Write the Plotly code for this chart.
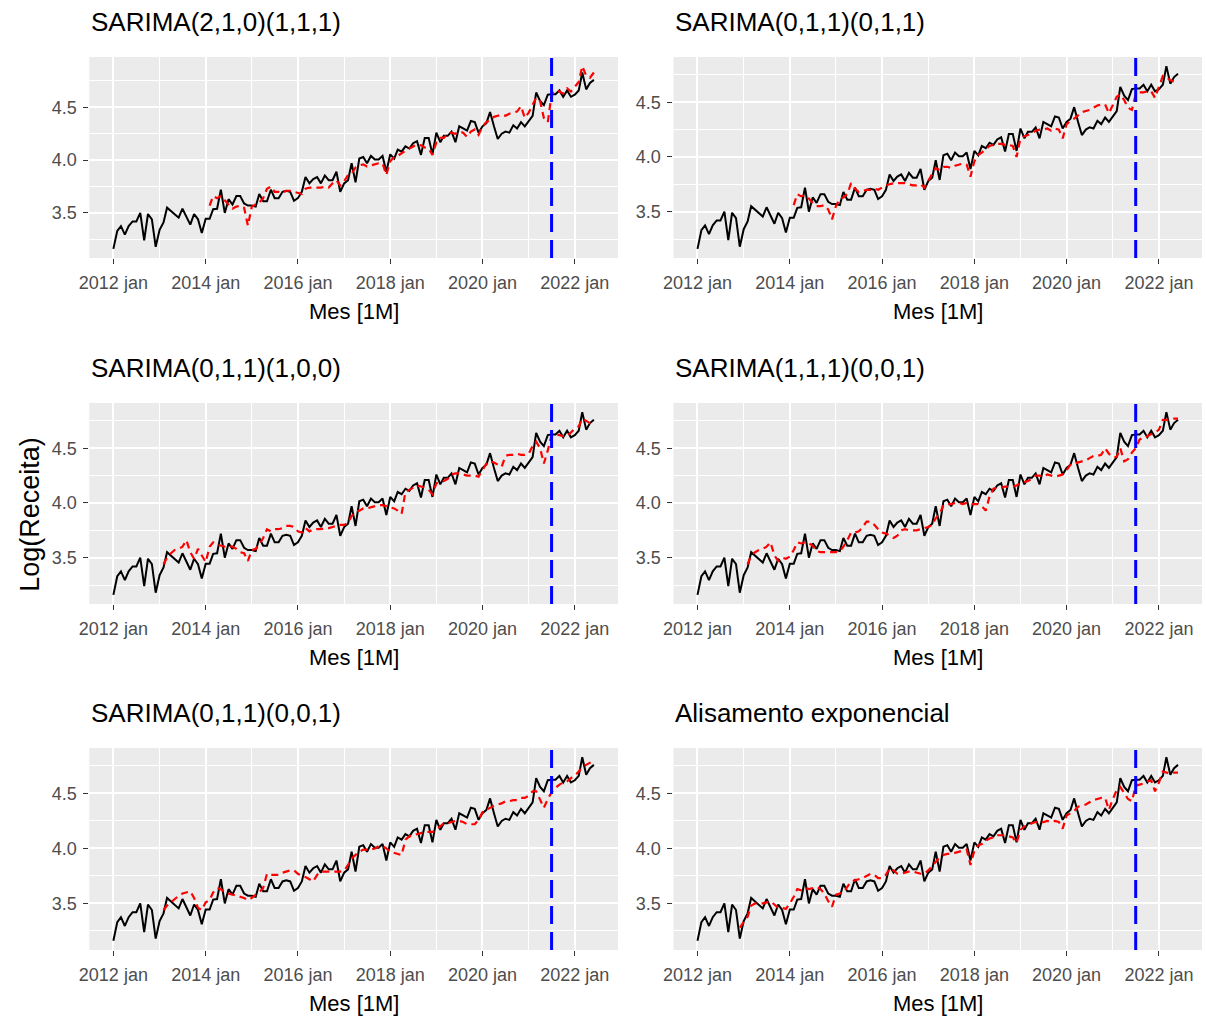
import pandas as pd
import plotly.graph_objects as go

# ---------------- data ----------------
first_month = "2012-01-01"
split_month = "2021-07-01"

log_receita = [
    3.16, 3.33, 3.375, 3.295, 3.375, 3.42, 3.42, 3.50, 3.24, 3.49, 3.44, 3.18,
    3.34, 3.41, 3.55, 3.52, 3.49, 3.455, 3.54, 3.47, 3.39, 3.49, 3.44, 3.31,
    3.445, 3.445, 3.535, 3.54, 3.72, 3.50, 3.63, 3.58, 3.66, 3.66, 3.59, 3.57,
    3.57, 3.56, 3.68, 3.61, 3.61, 3.72, 3.64, 3.64, 3.70, 3.71, 3.70, 3.615,
    3.64, 3.70, 3.84, 3.78, 3.82, 3.84, 3.78, 3.855, 3.81, 3.81, 3.89, 3.70,
    3.78, 3.81, 3.97, 3.79, 4.015, 4.03, 3.97, 4.04, 4.006, 4.006, 4.04, 3.89,
    4.055, 4.015, 4.10, 4.08, 4.13, 4.11, 4.16, 4.18, 4.05, 4.21, 4.21, 4.055,
    4.26, 4.17, 4.23, 4.23, 4.27, 4.17, 4.32, 4.30, 4.28, 4.37, 4.36, 4.26,
    4.32, 4.35, 4.455, 4.32, 4.20, 4.25, 4.27, 4.26, 4.33, 4.30, 4.36, 4.32,
    4.37, 4.42, 4.64, 4.56, 4.52, 4.62, 4.625, 4.625, 4.66, 4.60, 4.66, 4.60,
    4.62, 4.66, 4.83, 4.67, 4.73, 4.76,
]

model_titles = [
    "SARIMA(2,1,0)(1,1,1)", "SARIMA(0,1,1)(0,1,1)",
    "SARIMA(0,1,1)(1,0,0)", "SARIMA(1,1,1)(0,0,1)",
    "SARIMA(0,1,1)(0,0,1)", "Alisamento exponencial",
]
model_starts = ["2014-02-01", "2014-02-01", "2013-02-01",
                "2013-02-01", "2013-02-01", "2012-12-01"]

ajuste_1 = [
    3.57, 3.66, 3.64, 3.66, 3.62, 3.58, 3.54, 3.56, 3.57, 3.55, 3.38,
    3.56, 3.58, 3.60, 3.64, 3.73, 3.75, 3.70, 3.70, 3.69, 3.71, 3.71, 3.70,
    3.69, 3.68, 3.73, 3.74, 3.74, 3.74, 3.74, 3.75, 3.74, 3.78, 3.81, 3.76,
    3.80, 3.86, 3.87, 3.93, 3.95, 3.96, 3.94, 3.95, 3.96, 3.97, 3.97, 3.86,
    3.99, 4.03, 4.04, 4.07, 4.09, 4.11, 4.13, 4.15, 4.14, 4.12, 4.11, 4.05,
    4.17, 4.21, 4.21, 4.25, 4.26, 4.25, 4.27, 4.26, 4.22, 4.27, 4.29, 4.24,
    4.32, 4.36, 4.38, 4.41, 4.42, 4.43, 4.42, 4.44, 4.45, 4.46, 4.51, 4.40,
    4.45, 4.52, 4.59, 4.56, 4.40, 4.36, 4.62, 4.66, 4.65, 4.63, 4.68, 4.65,
    4.70, 4.74, 4.89, 4.80, 4.78, 4.83,
]
ajuste_2 = [
    3.56, 3.66, 3.64, 3.65, 3.62, 3.58, 3.55, 3.55, 3.56, 3.52, 3.43,
    3.55, 3.62, 3.63, 3.66, 3.76, 3.71, 3.68, 3.69, 3.70, 3.70, 3.71, 3.70,
    3.72, 3.74, 3.75, 3.76, 3.76, 3.76, 3.76, 3.75, 3.74, 3.74, 3.75, 3.72,
    3.78, 3.85, 3.90, 3.88, 3.91, 3.91, 3.90, 3.92, 3.93, 3.94, 3.93, 3.82,
    3.96, 4.02, 4.04, 4.07, 4.10, 4.11, 4.12, 4.12, 4.11, 4.11, 4.10, 4.00,
    4.17, 4.19, 4.20, 4.22, 4.24, 4.25, 4.25, 4.26, 4.24, 4.26, 4.25, 4.17,
    4.30, 4.33, 4.35, 4.38, 4.41, 4.42, 4.43, 4.45, 4.47, 4.48, 4.48, 4.40,
    4.48, 4.55, 4.57, 4.52, 4.45, 4.43, 4.57, 4.59, 4.59, 4.60, 4.60, 4.54,
    4.64, 4.74, 4.73, 4.70, 4.69, 4.70,
]
ajuste_3 = [
    3.44, 3.50, 3.54, 3.57, 3.58, 3.60, 3.66, 3.55, 3.49, 3.58, 3.52,
    3.46, 3.60, 3.64, 3.62, 3.61, 3.60, 3.60, 3.60, 3.58, 3.55, 3.54, 3.47,
    3.57, 3.58, 3.62, 3.68, 3.76, 3.74, 3.76, 3.76, 3.77, 3.79, 3.79, 3.78,
    3.74, 3.73, 3.77, 3.74, 3.76, 3.76, 3.76, 3.77, 3.77, 3.78, 3.79, 3.80,
    3.80, 3.82, 3.88, 3.92, 3.93, 3.95, 3.95, 3.96, 3.97, 3.98, 3.98, 3.97,
    3.96, 3.95, 3.93, 3.90, 4.10, 4.12, 4.14, 4.16, 4.15, 4.14, 4.12, 4.08,
    4.18, 4.19, 4.20, 4.22, 4.26, 4.27, 4.27, 4.26, 4.25, 4.25, 4.25, 4.24,
    4.30, 4.36, 4.38, 4.37, 4.35, 4.33, 4.43, 4.44, 4.44, 4.45, 4.44, 4.44,
    4.45, 4.52, 4.56, 4.50, 4.36, 4.48, 4.62, 4.63, 4.62, 4.61, 4.61, 4.64,
    4.68, 4.70, 4.77, 4.75, 4.73, 4.74,
]
ajuste_4 = [
    3.44, 3.52, 3.55, 3.57, 3.58, 3.60, 3.64, 3.52, 3.47, 3.50, 3.49,
    3.51, 3.57, 3.64, 3.63, 3.64, 3.63, 3.61, 3.56, 3.55, 3.55, 3.55, 3.55,
    3.55, 3.56, 3.60, 3.66, 3.73, 3.73, 3.74, 3.78, 3.83, 3.83, 3.80, 3.76,
    3.73, 3.72, 3.70, 3.68, 3.70, 3.75, 3.76, 3.75, 3.75, 3.75, 3.76, 3.77,
    3.78, 3.80, 3.86, 3.90, 3.98, 3.99, 3.99, 4.00, 4.00, 3.99, 4.00, 3.99,
    3.99, 3.99, 3.97, 3.93, 4.06, 4.13, 4.14, 4.14, 4.15, 4.15, 4.15, 4.16,
    4.18, 4.19, 4.20, 4.22, 4.25, 4.25, 4.24, 4.26, 4.25, 4.24, 4.25, 4.26,
    4.30, 4.35, 4.36, 4.37, 4.38, 4.39, 4.41, 4.43, 4.43, 4.44, 4.50, 4.45,
    4.42, 4.42, 4.50, 4.38, 4.40, 4.46, 4.50, 4.58, 4.60, 4.61, 4.63, 4.64,
    4.67, 4.76, 4.76, 4.77, 4.77, 4.77,
]
ajuste_5 = [
    3.44, 3.48, 3.51, 3.54, 3.57, 3.59, 3.60, 3.61, 3.55, 3.46, 3.44,
    3.51, 3.53, 3.60, 3.64, 3.63, 3.60, 3.59, 3.58, 3.57, 3.56, 3.55, 3.53,
    3.55, 3.58, 3.60, 3.64, 3.77, 3.76, 3.76, 3.76, 3.78, 3.79, 3.80, 3.80,
    3.77, 3.75, 3.74, 3.72, 3.70, 3.76, 3.79, 3.79, 3.79, 3.79, 3.79, 3.79,
    3.80, 3.85, 3.91, 3.94, 3.97, 3.99, 3.99, 3.99, 4.00, 4.02, 4.02, 4.00,
    3.97, 3.96, 3.95, 3.94, 4.08, 4.11, 4.12, 4.13, 4.14, 4.15, 4.15, 4.15,
    4.17, 4.20, 4.23, 4.23, 4.24, 4.25, 4.25, 4.24, 4.22, 4.22, 4.22, 4.26,
    4.33, 4.35, 4.37, 4.39, 4.40, 4.41, 4.43, 4.43, 4.44, 4.44, 4.46, 4.46,
    4.48, 4.52, 4.52, 4.45, 4.37, 4.45, 4.51, 4.55, 4.58, 4.60, 4.61, 4.64,
    4.66, 4.70, 4.74, 4.76, 4.78, 4.80,
]
ajuste_6 = [
    3.28, 3.33, 3.38, 3.48, 3.50, 3.50, 3.50, 3.51, 3.52, 3.49, 3.46, 3.46, 3.45,
    3.50, 3.56, 3.63, 3.62, 3.64, 3.63, 3.64, 3.65, 3.63, 3.59, 3.52, 3.47,
    3.58, 3.59, 3.60, 3.65, 3.70, 3.71, 3.72, 3.73, 3.75, 3.77, 3.76, 3.73,
    3.73, 3.76, 3.82, 3.80, 3.77, 3.77, 3.78, 3.79, 3.79, 3.78, 3.77, 3.77,
    3.80, 3.84, 3.88, 3.92, 3.94, 3.95, 3.95, 3.96, 3.97, 3.98, 3.99, 3.85,
    3.98, 4.03, 4.04, 4.07, 4.09, 4.10, 4.12, 4.12, 4.12, 4.11, 4.10, 4.05,
    4.17, 4.20, 4.21, 4.23, 4.24, 4.24, 4.24, 4.25, 4.24, 4.25, 4.24, 4.18,
    4.30, 4.32, 4.34, 4.38, 4.39, 4.40, 4.42, 4.44, 4.45, 4.46, 4.46, 4.35,
    4.45, 4.53, 4.56, 4.50, 4.45, 4.43, 4.57, 4.58, 4.59, 4.61, 4.62, 4.52,
    4.60, 4.70, 4.69, 4.68, 4.69, 4.69,
]
model_fits = [ajuste_1, ajuste_2, ajuste_3, ajuste_4, ajuste_5, ajuste_6]

x_tick_vals = ["2012-01-01", "2014-01-01", "2016-01-01", "2018-01-01", "2020-01-01", "2022-01-01"]
x_tick_text = ["2012 jan", "2014 jan", "2016 jan", "2018 jan", "2020 jan", "2022 jan"]
x_minor_vals = ["2013-01-01", "2015-01-01", "2017-01-01", "2019-01-01", "2021-01-01"]
y_tick_vals = [3.5, 4.0, 4.5]
y_tick_text = ["3.5", "4.0", "4.5"]
y_minor_vals = [3.0, 3.25, 3.75, 4.25, 4.75, 5.0]

# ---------------- layout geometry ----------------
W, H = 1206, 1021
col_px = [(80, 613), (669, 1202)]
row_px = [(57, 258), (403, 604), (748, 950)]

FONT = "Liberation Sans, Arial, Helvetica, sans-serif"

months = pd.date_range(first_month, periods=len(log_receita), freq="MS")
t0, t1 = months[0], months[-1]
span = t1 - t0
x_range = [(t0 - span * 0.05).strftime("%Y-%m-%d %H:%M"),
           (t1 + span * 0.05).strftime("%Y-%m-%d %H:%M")]

fig = go.Figure()
annotations = []
shapes = []

for i in range(6):
    r, c = divmod(i, 2)
    ax = "" if i == 0 else str(i + 1)
    xa, ya = "x" + ax, "y" + ax
    fit = model_fits[i]
    fit_months = pd.date_range(model_starts[i], periods=len(fit), freq="MS")

    fig.add_trace(go.Scatter(x=months, y=log_receita, mode="lines",
                             line=dict(color="black", width=2),
                             xaxis=xa, yaxis=ya, showlegend=False))
    fig.add_trace(go.Scatter(x=fit_months, y=fit, mode="lines",
                             line=dict(color="red", width=2.2, dash="7px,5px"),
                             xaxis=xa, yaxis=ya, showlegend=False))

    lo = min(min(log_receita), min(fit))
    hi = max(max(log_receita), max(fit))
    pad = (hi - lo) * 0.05
    y_range = [lo - pad, hi + pad]

    x0, x1 = col_px[c]
    top, bot = row_px[r]
    xdom = [x0 / W, x1 / W]
    ydom = [1 - bot / H, 1 - top / H]

    fig.layout["xaxis" + ax] = dict(
        domain=xdom, anchor=ya, type="date", range=x_range,
        tickmode="array", tickvals=x_tick_vals, ticktext=x_tick_text,
        ticks="outside", ticklen=5, tickwidth=1, tickcolor="#333333",
        ticklabelstandoff=3,
        tickfont=dict(family=FONT, size=18, color="#4D4D4D"),
        showgrid=True, gridcolor="white", gridwidth=2,
        minor=dict(tickmode="array", tickvals=x_minor_vals, showgrid=True,
                   gridcolor="white", gridwidth=1, ticks=""),
        zeroline=False, showline=False, fixedrange=True,
    )
    fig.layout["yaxis" + ax] = dict(
        domain=ydom, anchor=xa, range=y_range,
        tickmode="array", tickvals=y_tick_vals, ticktext=y_tick_text,
        ticks="outside", ticklen=5, tickwidth=1, tickcolor="#333333",
        ticklabelstandoff=3,
        tickfont=dict(family=FONT, size=18, color="#4D4D4D"),
        showgrid=True, gridcolor="white", gridwidth=2,
        minor=dict(tickmode="array", tickvals=y_minor_vals, showgrid=True,
                   gridcolor="white", gridwidth=1, ticks=""),
        zeroline=False, showline=False, fixedrange=True,
    )

    shapes.append(dict(type="line", xref=xa, yref=ya + " domain",
                       x0=split_month, x1=split_month, y0=0, y1=1,
                       line=dict(color="blue", width=3, dash="18px,8px"),
                       layer="above"))

    annotations.append(dict(text=model_titles[i], xref="paper", yref="paper",
                            x=(x0 + 1) / W, y=1 - (top - 35) / H,
                            xanchor="left", yanchor="middle", showarrow=False,
                            borderpad=0,
                            font=dict(family=FONT, size=26, color="black")))
    annotations.append(dict(text="Mes [1M]", xref="paper", yref="paper",
                            x=(x0 + x1) / 2 / W, y=1 - (bot + 53) / H,
                            xanchor="center", yanchor="middle", showarrow=False,
                            font=dict(family=FONT, size=22, color="black")))

annotations.append(dict(text="Log(Receita)", xref="paper", yref="paper",
                        x=20 / W, y=1 - 514 / H, xanchor="center", yanchor="middle",
                        textangle=-90, showarrow=False,
                        font=dict(family=FONT, size=27, color="black")))

fig.update_layout(
    width=W, height=H, autosize=False,
    margin=dict(l=0, r=0, t=0, b=0, pad=0),
    paper_bgcolor="white", plot_bgcolor="#EBEBEB",
    annotations=annotations, shapes=shapes, showlegend=False,
)

fig.write_html("out.html")
